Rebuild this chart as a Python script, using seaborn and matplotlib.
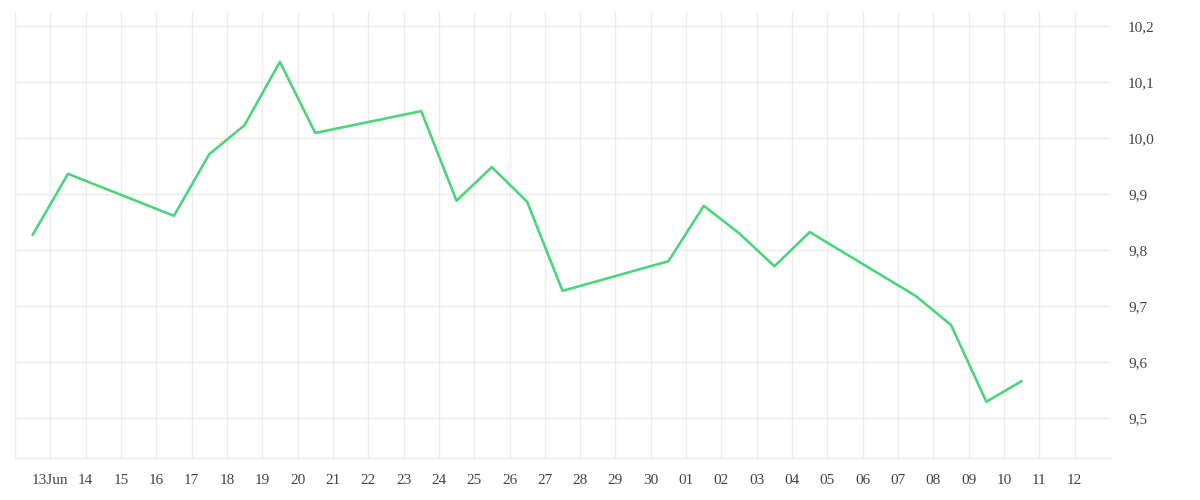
import numpy as np
import pandas as pd
import matplotlib
matplotlib.use('Agg')
import matplotlib.pyplot as plt
import matplotlib.dates as mdates
import matplotlib.ticker as mticker
import seaborn as sns

# Data (trading days, plotted at midday)
dates = ['2025-06-12', '2025-06-13', '2025-06-16', '2025-06-17', '2025-06-18',
         '2025-06-19', '2025-06-20', '2025-06-23', '2025-06-24', '2025-06-25',
         '2025-06-26', '2025-06-27', '2025-06-30', '2025-07-01', '2025-07-02',
         '2025-07-03', '2025-07-04', '2025-07-07', '2025-07-08', '2025-07-09',
         '2025-07-10']
values = [9.827, 9.936, 9.861, 9.971, 10.023,
          10.136, 10.009, 10.048, 9.888, 9.948,
          9.886, 9.727, 9.780, 9.879, 9.830,
          9.771, 9.832, 9.718, 9.666, 9.529,
          9.566]
y_ticks = [9.5, 9.6, 9.7, 9.8, 9.9, 10.0, 10.1, 10.2]

df = pd.DataFrame({'date': pd.to_datetime(dates) + pd.Timedelta(hours=12),
                   'value': values})

sns.set_style('white')
plt.rcParams['font.family'] = ['Liberation Serif', 'DejaVu Serif']

fig = plt.figure(figsize=(12, 5), dpi=100)
ax = fig.add_axes([0.0125, 0.084, 0.9125, 0.892])

sns.lineplot(data=df, x='date', y='value', color='#4ed47c', linewidth=1.9, ax=ax)

grid_c = '#ececec'
ax.set_xlim(pd.Timestamp('2025-06-12'), pd.Timestamp('2025-07-13'))
ax.set_ylim(9.4286, 10.225)

ax.xaxis.set_major_locator(mdates.DayLocator())
first = mdates.date2num(pd.Timestamp('2025-06-12'))
last = mdates.date2num(pd.Timestamp('2025-07-13'))


def fmt_day(x, pos=None):
    if abs(x - first) < 0.01 or abs(x - last) < 0.01:
        return ''
    d = mdates.num2date(x)
    if d.day == 13 and d.month == 6:
        return '13Jun'
    return d.strftime('%d')


ax.xaxis.set_major_formatter(mticker.FuncFormatter(fmt_day))
ax.set_yticks(y_ticks)
ax.yaxis.set_major_formatter(mticker.FuncFormatter(lambda v, p: f'{v:.1f}'.replace('.', ',')))
ax.yaxis.tick_right()

ax.grid(True, color=grid_c, linewidth=1)
ax.tick_params(axis='x', length=7.2, width=1, color=grid_c, pad=4,
               labelsize=11, labelcolor='#444444')
ax.tick_params(axis='y', length=0, pad=13, labelsize=11, labelcolor='#444444')
for s in ['top', 'left', 'right']:
    ax.spines[s].set_visible(False)
ax.spines['bottom'].set_color(grid_c)
ax.spines['bottom'].set_linewidth(1)
ax.set_xlabel('')
ax.set_ylabel('')

plt.savefig('out.png', dpi=100)
